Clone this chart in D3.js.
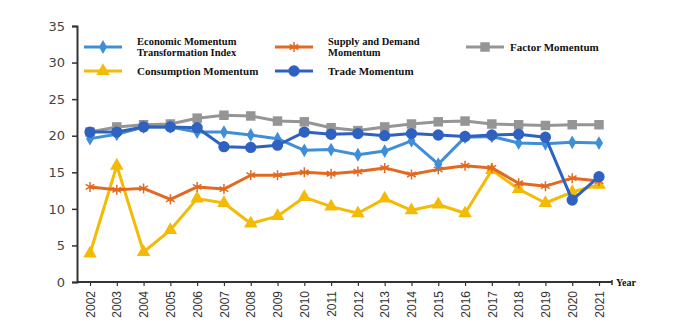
<!DOCTYPE html>
<meta charset="utf-8">
<html>
<head>
<style>
  html, body { margin: 0; padding: 0; background: #fff; }
  svg { display: block; }
  .ytick text { font-family: "DejaVu Sans", sans-serif; font-size: 13px; fill: #444; }
  .xtick text { font-family: "Liberation Sans", sans-serif; font-size: 12px; fill: #333; }
  .legend text { font-family: "Liberation Serif", serif; font-weight: bold; font-size: 11px; fill: #111; }
  .legend text.two { font-size: 10.5px; }
</style>
</head>
<body>
<svg width="689" height="334"></svg>
<script src="https://cdnjs.cloudflare.com/ajax/libs/d3/7.8.5/d3.min.js"></script>
<script>
var years = [2002, 2003, 2004, 2005, 2006, 2007, 2008, 2009, 2010, 2011,
             2012, 2013, 2014, 2015, 2016, 2017, 2018, 2019, 2020, 2021];
var yTicks = [0, 5, 10, 15, 20, 25, 30, 35];

var economic = [19.6, 20.2, 21.2, 21.2, 20.5, 20.5, 20.1, 19.6, 18.0, 18.1,
                17.4, 17.9, 19.3, 16.1, 19.8, 19.9, 19.0, 18.9, 19.1, 19.0];
var supplyDemand = [13.0, 12.6, 12.8, 11.3, 13.0, 12.7, 14.6, 14.6, 15.0, 14.8,
                    15.1, 15.6, 14.7, 15.4, 15.9, 15.6, 13.5, 13.1, 14.2, 13.8];
var factor = [20.5, 21.2, 21.5, 21.6, 22.4, 22.8, 22.7, 22.0, 21.9, 21.1,
              20.7, 21.2, 21.6, 21.9, 22.0, 21.6, 21.5, 21.4, 21.5, 21.5];
var consumption = [3.9, 15.9, 4.1, 7.1, 11.4, 10.8, 8.0, 9.0, 11.6, 10.3,
                   9.4, 11.4, 9.8, 10.6, 9.4, 15.3, 12.7, 10.8, 12.3, 13.3];
var trade = [20.5, 20.5, 21.2, 21.2, 21.1, 18.5, 18.4, 18.7, 20.5, 20.2,
             20.3, 20.0, 20.3, 20.1, 19.9, 20.1, 20.2, 19.8, 11.2, 14.4];

var series = [
  {name: ["Economic Momentum", "Transformation Index"], values: economic, color: "#3f8fd8", marker: "diamond", lx: 84, ly: 47},
  {name: ["Supply and Demand", "Momentum"], values: supplyDemand, color: "#e2691f", marker: "star", lx: 275, ly: 47},
  {name: ["Factor Momentum"], values: factor, color: "#959595", marker: "square", lx: 466, ly: 47},
  {name: ["Consumption Momentum"], values: consumption, color: "#f3bb05", marker: "triangle", lx: 84, ly: 71},
  {name: ["Trade Momentum"], values: trade, color: "#2f62c0", marker: "circle", lx: 275, ly: 71}
];
// draw order: yellow and orange beneath blues
var drawOrder = [3, 1, 2, 0, 4];

var svg = d3.select("svg");

var x = d3.scalePoint().domain(years).range([90, 599]);
var y = d3.scaleLinear().domain([0, 35]).range([282, 26]);

var symbols = {
  diamond: d3.symbol().type(d3.symbolDiamond).size(55),
  star: d3.symbol().type(d3.symbolAsterisk).size(70),
  square: d3.symbol().type(d3.symbolSquare).size(90),
  triangle: d3.symbol().type(d3.symbolTriangle).size(80),
  circle: d3.symbol().type(d3.symbolCircle).size(100)
};

// y axis
var yAxis = svg.append("g")
    .attr("class", "ytick")
    .attr("transform", "translate(77,0)")
    .call(d3.axisLeft(y).tickValues(yTicks).tickSize(5).tickPadding(7));
yAxis.select(".domain").attr("stroke", "#333").attr("stroke-width", 2);
yAxis.selectAll(".tick line").attr("stroke", "#333").attr("stroke-width", 1.5);

// x axis
var xAxis = svg.append("g")
    .attr("class", "xtick")
    .attr("transform", "translate(0,282)")
    .call(d3.axisBottom(x).tickSize(4).tickPadding(6));
xAxis.select(".domain").remove();
xAxis.append("line")
    .attr("x1", 77).attr("x2", 612)
    .attr("stroke", "#333").attr("stroke-width", 2);
xAxis.append("line")
    .attr("x1", 612).attr("x2", 612).attr("y1", -2).attr("y2", 3)
    .attr("stroke", "#333").attr("stroke-width", 1.5);
xAxis.selectAll(".tick line").attr("stroke", "#333").attr("stroke-width", 1.2);
xAxis.selectAll(".tick text")
    .attr("transform", "rotate(-90)")
    .attr("text-anchor", "end")
    .attr("x", -9)
    .attr("y", 0)
    .attr("dy", "0.35em");

svg.append("text")
    .attr("x", 616).attr("y", 286)
    .attr("font-family", "Liberation Serif, serif")
    .attr("font-weight", "bold")
    .attr("font-size", 10)
    .attr("fill", "#111")
    .text("Year");

var line = d3.line()
    .x(function (d, i) { return x(years[i]); })
    .y(function (d) { return y(d); });

drawOrder.forEach(function (k) {
  var s = series[k];
  var g = svg.append("g");
  g.append("path")
      .datum(s.values)
      .attr("fill", "none")
      .attr("stroke", s.color)
      .attr("stroke-width", 3)
      .attr("stroke-linejoin", "round")
      .attr("d", line);
  g.selectAll("path.mark")
      .data(s.values)
      .enter()
        .append("path")
        .attr("class", "mark")
        .attr("d", symbols[s.marker])
        .attr("transform", function (d, i) { return "translate(" + x(years[i]) + "," + y(d) + ")"; })
        .attr("fill", s.color)
        .attr("stroke", s.color)
        .attr("stroke-width", s.marker === "star" ? 1.5 : 0);
});

// legend
var legend = svg.append("g").attr("class", "legend");
series.forEach(function (s) {
  var lg = legend.append("g");
  lg.append("line")
      .attr("x1", s.lx).attr("x2", s.lx + 38)
      .attr("y1", s.ly).attr("y2", s.ly)
      .attr("stroke", s.color).attr("stroke-width", 3);
  lg.append("path")
      .attr("d", symbols[s.marker])
      .attr("transform", "translate(" + (s.lx + 19) + "," + s.ly + ")")
      .attr("fill", s.color)
      .attr("stroke", s.color)
      .attr("stroke-width", s.marker === "star" ? 1.5 : 0);
  var tx = s.marker === "square" ? s.lx + 44 : s.lx + 53;
  if (s.name.length === 1) {
    lg.append("text").attr("x", tx).attr("y", s.ly + 4).text(s.name[0]);
  } else {
    lg.append("text").attr("class", "two").attr("x", tx).attr("y", s.ly - 2).text(s.name[0]);
    lg.append("text").attr("class", "two").attr("x", tx).attr("y", s.ly + 9).text(s.name[1]);
  }
});
</script>
</body>
</html>
